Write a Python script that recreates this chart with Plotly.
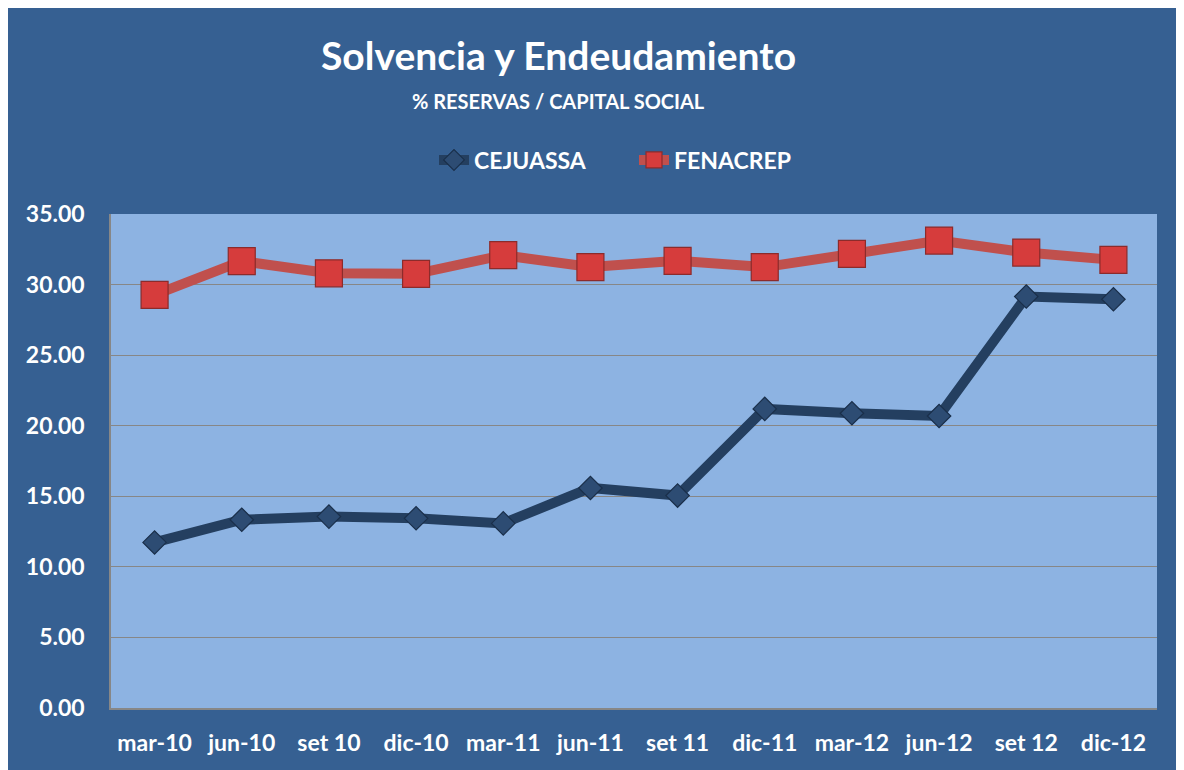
import plotly.graph_objects as go

categories = ["mar-10", "jun-10", "set 10", "dic-10", "mar-11", "jun-11",
              "set 11", "dic-11", "mar-12", "jun-12", "set 12", "dic-12"]
cejuassa = [11.73, 13.34, 13.56, 13.44, 13.08, 15.59, 15.05, 21.19, 20.88, 20.69, 29.15, 28.96]
fenacrep = [29.27, 31.66, 30.80, 30.76, 32.08, 31.24, 31.68, 31.24, 32.17, 33.12, 32.27, 31.75]
y_ticks = [0, 5, 10, 15, 20, 25, 30, 35]

OUTER = "#366092"
PLOT = "#8DB3E2"
GRID = "#878787"
FONT = "Lato"

fig = go.Figure()
fig.add_trace(go.Scatter(
    x=categories, y=cejuassa, name="CEJUASSA", mode="lines+markers",
    line=dict(color="#243F60", width=10),
    marker=dict(symbol="diamond", size=18, color="#2D4C73",
                line=dict(color="#1A2F4A", width=1.2)),
))
fig.add_trace(go.Scatter(
    x=categories, y=fenacrep, name="FENACREP", mode="lines+markers",
    line=dict(color="#C0504D", width=10),
    marker=dict(symbol="square", size=27, color="#D63C3C",
                line=dict(color="#8C2B2B", width=1.2)),
))

# page is offset by the 8px body margin
W, H = 1184, 770
L, R, T, B = 103, 35, 206, 70
pw, ph = W - L - R, H - T - B
PB = H - B  # plot bottom in figure px


def ypos(fig_y):
    return (PB - fig_y) / ph


def xpos(fig_x):
    return (fig_x - L) / pw


fig.update_layout(
    width=W, height=H,
    margin=dict(l=L, r=R, t=T, b=B),
    paper_bgcolor=OUTER, plot_bgcolor=PLOT,
    font=dict(family=FONT, color="white", size=20),
    showlegend=True,
    legend=dict(orientation="h", x=xpos(626), xanchor="center",
                y=ypos(152), yanchor="middle",
                font=dict(family=FONT, size=23, color="white", weight="bold"),
                bgcolor="rgba(0,0,0,0)", entrywidth=155, entrywidthmode="pixels"),
    xaxis=dict(type="category", showgrid=False, showline=True, linecolor=GRID,
               linewidth=1.5, ticks="", ticklabelstandoff=14,
               tickfont=dict(family=FONT, size=23, color="white", weight="bold"),
               range=[-0.5, len(categories) - 0.5]),
    yaxis=dict(range=[0, 35], tickvals=y_ticks, tickformat=".2f",
               showgrid=True, gridcolor=GRID, gridwidth=1.4,
               showline=True, linecolor=GRID, linewidth=1.5, zeroline=False,
               ticks="", ticklabelstandoff=20,
               tickfont=dict(family=FONT, size=23, color="white", weight="bold")),
    annotations=[
        dict(text="Solvencia y Endeudamiento", xref="paper", yref="paper",
             x=xpos(550), y=ypos(47), xanchor="center", yanchor="middle",
             showarrow=False,
             font=dict(family=FONT, size=39, color="white", weight="bold")),
        dict(text="% RESERVAS / CAPITAL SOCIAL", xref="paper", yref="paper",
             x=xpos(550), y=ypos(93), xanchor="center", yanchor="middle",
             showarrow=False,
             font=dict(family=FONT, size=20, color="white", weight="bold")),
    ],
)

fig.write_html("out.html")
